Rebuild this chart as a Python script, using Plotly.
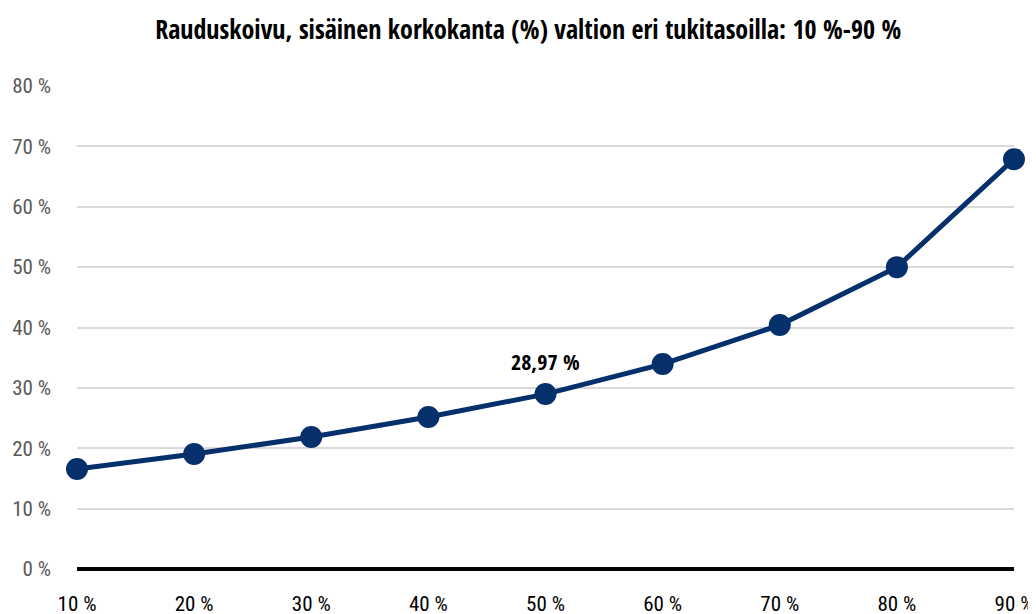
import plotly.graph_objects as go

categories = ["10 %", "20 %", "30 %", "40 %", "50 %", "60 %", "70 %", "80 %", "90 %"]
values = [16.56, 19.04, 21.85, 25.17, 28.97, 33.94, 40.4, 50.0, 67.88]
y_tickvals = [0, 10, 20, 30, 40, 50, 60, 70, 80]
y_ticktext = ["0 %", "10 %", "20 %", "30 %", "40 %", "50 %", "60 %", "70 %", "80 %"]
title = "Rauduskoivu, sisäinen korkokanta (%) valtion eri tukitasoilla: 10 %-90 %"
label_index = 4
label_text = "28,97 %"

BOLD = "Open Sans Condensed, Roboto Condensed, sans-serif"
REG = "Roboto Condensed, sans-serif"
xs = list(range(len(categories)))

# the page body adds an 8px offset; the figure is sized to compensate
W, H = 1028, 606

fig = go.Figure()
fig.add_trace(go.Scatter(
    x=xs, y=values, mode="lines+markers",
    line=dict(color="#06306b", width=5),
    marker=dict(color="#06306b", size=22),
    cliponaxis=False, hoverinfo="skip", showlegend=False,
))
fig.add_annotation(
    x=xs[label_index], y=values[label_index], text="<b>" + label_text + "</b>",
    showarrow=False, yshift=33, font=dict(family=BOLD, size=22, color="#000000"),
)

fig.update_layout(
    width=W, height=H,
    margin=dict(l=69, r=22, t=78, b=45),
    paper_bgcolor="white", plot_bgcolor="white",
    title=dict(text="<b>" + title + "</b>", x=0.506, xanchor="center",
               y=1 - 22 / H, yanchor="middle",
               font=dict(family=BOLD, size=26, color="#000000")),
    xaxis=dict(range=[0, len(categories) - 1], tickvals=xs, ticktext=categories,
               showgrid=False, zeroline=False, showline=False, automargin=False,
               ticks="", ticklabelstandoff=20,
               tickfont=dict(family=REG, size=21, color="#000000")),
    yaxis=dict(range=[0, 80], tickvals=y_tickvals, ticktext=y_ticktext,
               showgrid=True, gridcolor="#d9d9d9", gridwidth=2,
               zeroline=True, zerolinecolor="#000000", zerolinewidth=4,
               showline=False, ticks="", ticklabelstandoff=25, automargin=False,
               tickfont=dict(family=REG, size=21, color="#595959")),
)

fig.write_html("out.html")
